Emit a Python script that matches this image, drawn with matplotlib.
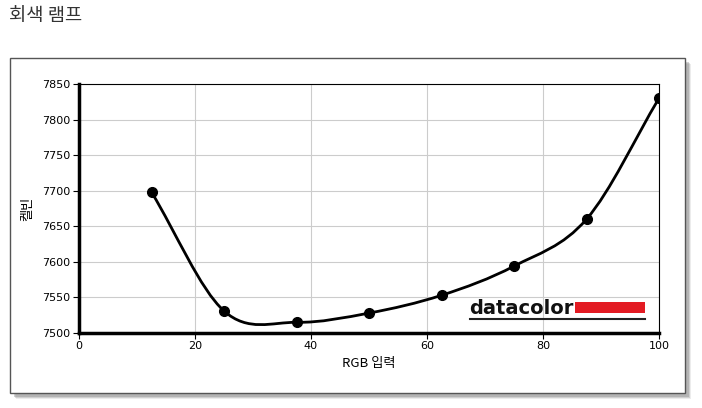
import matplotlib
matplotlib.use("Agg")
import matplotlib.pyplot as plt
from matplotlib.path import Path
from matplotlib.patches import PathPatch, Rectangle
import numpy as np

plt.rcParams['font.family'] = ['Noto Sans CJK KR', 'DejaVu Sans']

title = "회색 램프"
xlabel = "RGB 입력"
ylabel = "켈빈"
rgb_input = [12.5, 25, 37.5, 50, 62.5, 75, 87.5, 100]
kelvin = [7698, 7531, 7515, 7528, 7553, 7594, 7660, 7830]
xticks = [0, 20, 40, 60, 80, 100]
yticks = [7500, 7550, 7600, 7650, 7700, 7750, 7800, 7850]

fig = plt.figure(figsize=(7.02, 4.08), dpi=100)
W, H = 702, 408

def fx(px):
    return px / W
def fy(py):
    return 1 - py / H

# frame with soft shadow
for k, a in [(6, 0.15), (5, 0.25), (4, 0.35)]:
    fig.patches.append(Rectangle((fx(10 + k), fy(393 + k)), fx(675), (393 - 58) / H,
                                 transform=fig.transFigure, facecolor='#808080',
                                 alpha=a, edgecolor='none', zorder=0))
fig.patches.append(Rectangle((fx(10), fy(393)), fx(675), (393 - 58) / H,
                             transform=fig.transFigure, facecolor='white',
                             edgecolor='#555555', linewidth=1, zorder=1))

fig.text(fx(9), fy(16), title, fontsize=13.5, color='#333333', va='center', ha='left')

ax = fig.add_axes([fx(79), fy(333), (659 - 79) / W, (333 - 84) / H])
ax.set_zorder(2)
ax.set_xlim(0, 100)
ax.set_ylim(7500, 7850)
ax.set_xticks(xticks)
ax.set_yticks(yticks)
ax.grid(True, color='#cccccc', linewidth=0.8)
ax.set_axisbelow(True)
for s in ['top', 'right']:
    ax.spines[s].set_linewidth(0.8)
for s in ['left', 'bottom']:
    ax.spines[s].set_linewidth(2.5)
ax.tick_params(axis='both', direction='out', length=4, width=0.8,
               labelsize=8, pad=2, colors='black')
for lab in ax.get_xticklabels() + ax.get_yticklabels():
    lab.set_family(['DejaVu Sans'])
ax.set_xlabel(xlabel, fontsize=9.5, labelpad=4)
ax.set_ylabel(ylabel, fontsize=9.5, labelpad=6)

# smooth Catmull-Rom curve through the points, via bezier path
x = np.array(rgb_input, float)
y = np.array(kelvin, float)
n = len(x)
verts = [(x[0], y[0])]
codes = [Path.MOVETO]
def tangent(i):
    if i == 0:
        return ((x[1] - x[0]), (y[1] - y[0]))
    if i == n - 1:
        return ((x[-1] - x[-2]), (y[-1] - y[-2]))
    return ((x[i + 1] - x[i - 1]) / 2, (y[i + 1] - y[i - 1]) / 2)
for i in range(n - 1):
    t0 = tangent(i)
    t1 = tangent(i + 1)
    c1 = (x[i] + t0[0] / 3, y[i] + t0[1] / 3)
    c2 = (x[i + 1] - t1[0] / 3, y[i + 1] - t1[1] / 3)
    verts += [c1, c2, (x[i + 1], y[i + 1])]
    codes += [Path.CURVE4] * 3
ax.add_patch(PathPatch(Path(verts, codes), facecolor='none', edgecolor='black',
                       linewidth=2, zorder=3))
ax.plot(rgb_input, kelvin, 'o', color='black', markersize=7, zorder=4)

# datacolor logo
ax.text(0.672, 0.10, "datacolor", transform=ax.transAxes, fontsize=14,
        fontweight='bold', family=['DejaVu Sans'], color='#111111',
        va='center', ha='left', zorder=5)
ax.add_patch(Rectangle((0.856, 0.08), 0.12, 0.045, transform=ax.transAxes,
                       facecolor='#e31b23', edgecolor='none', zorder=5))
ax.plot([0.674, 0.976], [0.057, 0.057], transform=ax.transAxes,
        color='#222222', linewidth=1.5, zorder=5)

fig.savefig("out.png", dpi=100)
